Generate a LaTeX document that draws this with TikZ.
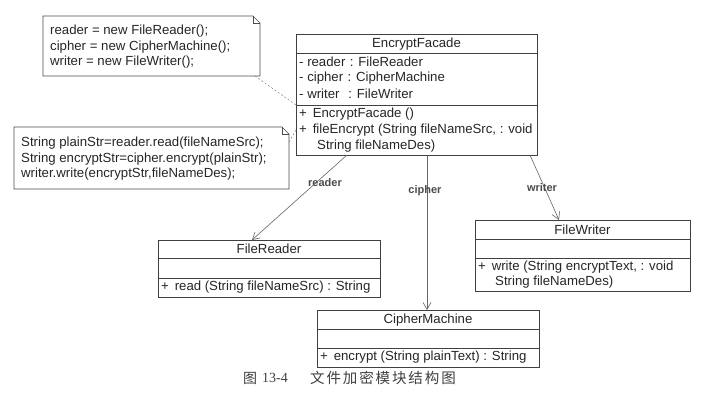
\documentclass[tikz,border=0pt]{standalone}
\usepackage{fontspec}
\setmainfont{Liberation Sans}
\newfontfamily\cjk{Noto Sans CJK SC}
\newfontfamily\serifnum{Liberation Serif}
\usetikzlibrary{arrows.meta}
\tikzset{
  clsbox/.style={draw=black!75, line width=0.7pt, inner sep=0pt, outer sep=0pt, anchor=north west},
  sepline/.style={draw=black!75, line width=0.7pt},
  notebox/.style={inner sep=0pt, outer sep=0pt, anchor=north west},
  noteline/.style={draw=black!70, line width=0.6pt},
  txt/.style={inner sep=0pt, anchor=west, font=\fontsize{13.2}{15}\selectfont, text=black!85},
  ttl/.style={inner sep=0pt, anchor=center, font=\fontsize{13.2}{15}\selectfont, text=black!85},
  assoc/.style={draw=black!60, line width=0.6pt, -{Straight Barb[length=7pt,width=8pt]}},
  lbl/.style={inner sep=0pt, font=\bfseries\fontsize{11}{12}\selectfont, text=black!70},
  notelink/.style={draw=black!50, dash pattern=on 2pt off 2pt, line width=0.5pt},
  capt/.style={inner sep=0pt, anchor=west, text=black!75}
}
\begin{document}
\begin{tikzpicture}[x=1pt,y=-1pt]
\useasboundingbox[fill=white] (0,0) rectangle (710,414);

% Note 1
\node[notebox, minimum width=217pt, minimum height=60pt] (n1) at (43,16) {};
\draw[noteline] (n1.north west) -- ([xshift=-7pt]n1.north east) -- ([yshift=-7pt]n1.north east) -- (n1.south east) -- (n1.south west) -- cycle;
\draw[noteline] ([xshift=-7pt]n1.north east) |- ([yshift=-7pt]n1.north east);
\node[txt] (n1a) at (50,31) {reader = new FileReader();};
\node[txt] (n1b) at (50,47) {cipher = new CipherMachine();};
\node[txt] (n1c) at (50,62) {writer = new FileWriter();};

% Note 2
\node[notebox, minimum width=275pt, minimum height=62pt] (n2) at (14,127) {};
\draw[noteline] (n2.north west) -- ([xshift=-7pt]n2.north east) -- ([yshift=-7pt]n2.north east) -- (n2.south east) -- (n2.south west) -- cycle;
\draw[noteline] ([xshift=-7pt]n2.north east) |- ([yshift=-7pt]n2.north east);
\node[txt] (n2a) at (21,143) {String plainStr=reader.read(fileNameSrc);};
\node[txt] (n2b) at (21,159) {String encryptStr=cipher.encrypt(plainStr);};
\node[txt] (n2c) at (21,174) {writer.write(encryptStr,fileNameDes);};

% EncryptFacade
\node[clsbox, minimum width=241pt, minimum height=121pt] (ef) at (296,34) {};
\draw[sepline] ([yshift=-19pt]ef.north west) -- ([yshift=-19pt]ef.north east);
\draw[sepline] ([yshift=-71pt]ef.north west) -- ([yshift=-71pt]ef.north east);
\node[ttl] (eft) at (416.5,44) {EncryptFacade};
\node[txt] (efa1) at (299,62) {- reader\,\,: FileReader};
\node[txt] (efa2) at (299,78) {- cipher\,\,: CipherMachine};
\node[txt] (efa3) at (299,94) {- writer\,\,\,\,: FileWriter};
\node[txt] (efm1) at (299,114) {+\, EncryptFacade ()};
\node[txt] (efm2) at (299,130) {+\, fileEncrypt (String fileNameSrc, : void};
\node[txt] (efm3) at (317,146) {String fileNameDes)};

% FileReader
\node[clsbox, minimum width=222pt, minimum height=57pt] (fr) at (158,240) {};
\draw[sepline] ([yshift=-18pt]fr.north west) -- ([yshift=-18pt]fr.north east);
\draw[sepline] ([yshift=-38pt]fr.north west) -- ([yshift=-38pt]fr.north east);
\node[ttl] (frt) at (269,249) {FileReader};
\node[txt] (frm) at (161,287) {+\, read (String fileNameSrc) : String};

% FileWriter
\node[clsbox, minimum width=215pt, minimum height=71pt] (fw) at (475,220) {};
\draw[sepline] ([yshift=-19pt]fw.north west) -- ([yshift=-19pt]fw.north east);
\draw[sepline] ([yshift=-38pt]fw.north west) -- ([yshift=-38pt]fw.north east);
\node[ttl] (fwt) at (582.5,229.5) {FileWriter};
\node[txt] (fwm1) at (478,267) {+\, write (String encryptText, : void};
\node[txt] (fwm2) at (495,282) {String fileNameDes)};

% CipherMachine
\node[clsbox, minimum width=222pt, minimum height=57pt] (cm) at (317,310) {};
\draw[sepline] ([yshift=-19pt]cm.north west) -- ([yshift=-19pt]cm.north east);
\draw[sepline] ([yshift=-38pt]cm.north west) -- ([yshift=-38pt]cm.north east);
\node[ttl] (cmt) at (428,320) {CipherMachine};
\node[txt] (cmm) at (320,357) {+\, encrypt (String plainText) : String};

% note links
\draw[notelink] ([xshift=-5pt]n1.south east) -- ([yshift=-71pt]ef.north west);
\draw[notelink] ([yshift=16pt]n2.east) -- ([yshift=-96pt]ef.north west);

% associations
\draw[assoc] ([xshift=51pt]ef.south west) -- ([xshift=94pt]fr.north west);
\draw[assoc] ([xshift=131pt]ef.south west) -- ([xshift=110pt]cm.north west);
\draw[assoc] ([xshift=234pt]ef.south west) -- ([xshift=84pt]fw.north west);
\node[lbl] (lr) at (325,183) {reader};
\node[lbl] (lc) at (425,191) {cipher};
\node[lbl] (lw) at (542,188) {writer};

% caption
\node[capt, font={\cjk\fontsize{14}{15}\selectfont}] (c1) at (243,378) {图};
\node[capt, font={\serifnum\fontsize{14}{15}\selectfont}] (c2) at (262,378) {13-4};
\node[capt, font={\cjk\fontsize{14.5}{15}\selectfont\addfontfeature{LetterSpace=13}}] (c3) at (310,378) {文件加密模块结构图};
\end{tikzpicture}
\end{document}
